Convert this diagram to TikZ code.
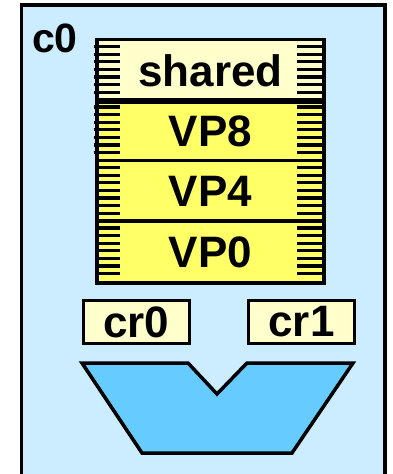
\documentclass[tikz,border=0pt]{standalone}
\usepackage{fontspec}
\setmainfont{Liberation Sans}
\definecolor{coreblue}{HTML}{CCECFF}
\definecolor{paleyellow}{HTML}{FFFFCC}
\definecolor{vpyellow}{HTML}{FFFF66}
\definecolor{alublue}{HTML}{66CCFF}
\begin{document}
\begin{tikzpicture}[x=1pt,y=-1pt,
  lbl/.style={font=\fontsize{44}{44}\selectfont\bfseries},
  slot/.style={draw=black,line width=2.4pt,minimum width=225.5pt,minimum height=60.5pt,
    inner sep=0pt,anchor=north west,lbl},
  regbox/.style={draw=black,line width=3pt,fill=paleyellow,minimum width=106pt,
    minimum height=43pt,inner sep=0pt,anchor=north west,lbl},
  tick/.style={line width=3.2pt},
]
\useasboundingbox (0,0) rectangle (392,474);
\fill[white] (0,0) rectangle (392,474);

% core outline
\draw[line width=3.5pt,fill=coreblue] (21.5,5) rectangle (385,490);
\node[lbl,font=\fontsize{41}{41}\selectfont\bfseries,anchor=base west,inner sep=0pt] (core) at (32,52) {c0};

% register file slots
\node[slot,fill=paleyellow] (shared) at (96.5,39)    {shared};
\node[slot,fill=vpyellow]   (vp8)    at (96.5,99.5)  {VP8};
\node[slot,fill=vpyellow]   (vp4)    at (96.5,160)   {VP4};
\node[slot,fill=vpyellow]   (vp0)    at (96.5,220.5) {VP0};

% tick marks on both sides of each slot (upper two slots start just left of the edge)
\foreach \top/\xs in {39/93.5,99.5/93.5,160/96.5,220.5/96.5}{
  \foreach \k in {0,...,6}{
    \pgfmathsetmacro{\yy}{\top+7.5+7.6*\k}
    \draw[tick] (\xs,\yy) -- (120,\yy);
    \draw[tick] (297,\yy) -- (322,\yy);
  }
}
% slot borders on top of the ticks
\draw[line width=2.4pt] (vp8.north west) -- (vp8.north east);
\draw[line width=3.5pt] (shared.south west) -- (shared.south east);
\draw[line width=2.4pt] (vp4.north west) -- (vp4.north east);
\draw[line width=2.4pt] (vp0.north west) -- (vp0.north east);
\draw[line width=3pt] (shared.north west) rectangle (vp0.south east);

% cluster registers
\node[regbox] (cr0) at (81.7,299) {cr0};
\node[regbox] (cr1) at (247,299)  {cr1};

% ALU
\draw[line width=3.5pt,fill=alublue,line join=miter]
  (82,363) -- (188,363) -- (217,394) -- (247,363) -- (353,363)
  -- (292,453) -- (142,453) -- cycle;
\end{tikzpicture}
\end{document}
